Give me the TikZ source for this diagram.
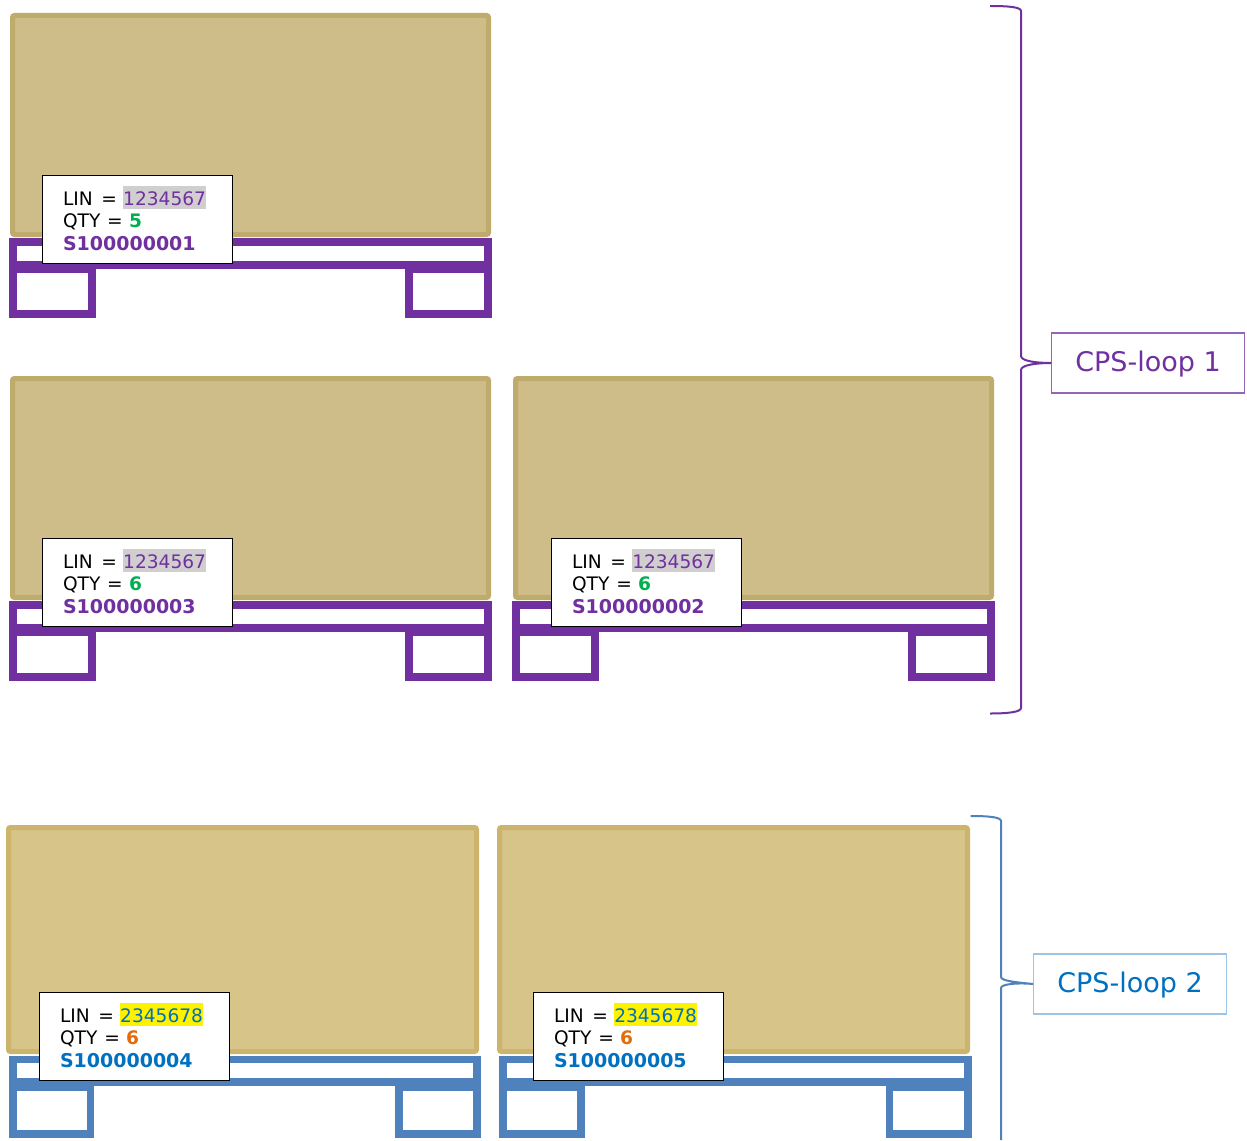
\documentclass[tikz,border=0pt]{standalone}
\usepackage{fontspec}
\setmainfont{DejaVu Sans}
\definecolor{looppurple}{HTML}{7030A0}
\definecolor{loopblue}{HTML}{4F81BD}
\definecolor{looptext}{HTML}{0070C0}
\definecolor{qtygreen}{HTML}{00B050}
\definecolor{qtyorange}{HTML}{E36C0A}
\definecolor{hlgrey}{HTML}{D0CECE}
\newcommand{\marked}[2]{{\setlength{\fboxsep}{0pt}\smash{\colorbox{#1}{\rule[-3.6pt]{0pt}{23pt}#2}}}}
\newcommand{\linis}{\rule{0pt}{16.6pt}LIN\kern2.5pt{} = }
\newcommand{\qtyis}{QTY\kern0.7pt{} = }
\newcommand{\serial}[2]{\textcolor{#1}{\fontsize{19}{22.6}\selectfont\textbf{#2}}}
\tikzstyle{crate}=[line width=5pt, rounded corners=2pt, line join=miter]
\tikzstyle{crateA}=[crate, draw={rgb,255:red,191;green,171;blue,107}, fill={rgb,255:red,206;green,188;blue,137}]
\tikzstyle{crateB}=[crate, draw={rgb,255:red,205;green,180;blue,108}, fill={rgb,255:red,215;green,196;blue,137}]
\tikzstyle{palletA}=[draw=looppurple, line width=8pt]
\tikzstyle{palletB}=[draw=loopblue, line width=7.7pt]
\tikzstyle{tag}=[draw=black, fill=white, line width=1pt, anchor=north west, inner xsep=20.5pt, inner ysep=0pt, text width=149pt, minimum height=88.4pt, align=left, font=\fontsize{18.6}{22.4}\selectfont]
\tikzstyle{loopbox}=[draw, line width=1.3pt, fill=white, minimum width=192.5pt, minimum height=60pt, inner sep=0pt, text height=21.5pt, text depth=4.5pt, font=\fontsize{27}{32}\selectfont]
\tikzstyle{brace}=[line width=2pt]
\begin{document}
\begin{tikzpicture}[x=1pt, y=-1pt]
    \useasboundingbox (0, 0) rectangle (1247, 1140);
    \foreach \dx/\dy in {0/0, 0/363, 503/363} {
        \begin{scope}[shift={(\dx, \dy)}]
            \draw[crateA] (12.5, 15.5) rectangle (488.5, 234.5);
            \draw[palletA] (12.7, 241.8) rectangle (488.3, 265);
            \draw[palletA] (12.7, 268.7) rectangle (92, 313.7);
            \draw[palletA] (409, 268.7) rectangle (488.3, 313.7);
        \end{scope}
    }
    \foreach \dx in {0, 491} {
        \draw[crateB] (8.5+\dx, 827.5) rectangle (476.5+\dx, 1051.5);
    }
    \foreach \dx in {0, 490.5} {
        \draw[palletB] (12.7+\dx, 1059.5) rectangle (477.3+\dx, 1081.7);
        \draw[palletB] (12.7+\dx, 1087.5) rectangle (90.5+\dx, 1133.7);
        \draw[palletB] (399+\dx, 1087.5) rectangle (477.3+\dx, 1133.7);
    }
    \node[tag] (tag1) at (42, 175) {\linis\marked{hlgrey}{\textcolor{looppurple}{1234567}}\\\qtyis\textcolor{qtygreen}{\textbf{5}}\\\serial{looppurple}{S100000001}};
    \node[tag] (tag3) at (42, 538) {\linis\marked{hlgrey}{\textcolor{looppurple}{1234567}}\\\qtyis\textcolor{qtygreen}{\textbf{6}}\\\serial{looppurple}{S100000003}};
    \node[tag] (tag2) at (551, 538) {\linis\marked{hlgrey}{\textcolor{looppurple}{1234567}}\\\qtyis\textcolor{qtygreen}{\textbf{6}}\\\serial{looppurple}{S100000002}};
    \node[tag] (tag4) at (39, 992) {\linis\marked{yellow}{\textcolor{looptext}{2345678}}\\\qtyis\textcolor{qtyorange}{\textbf{6}}\\\serial{looptext}{S100000004}};
    \node[tag] (tag5) at (533, 992) {\linis\marked{yellow}{\textcolor{looptext}{2345678}}\\\qtyis\textcolor{qtyorange}{\textbf{6}}\\\serial{looptext}{S100000005}};
    \node[loopbox, draw=looppurple!75, text=looppurple] (loop1) at (1148, 363) {CPS-loop 1};
    \node[loopbox, draw={rgb,255:red,157;green,195;blue,230}, text=looptext] (loop2) at (1130, 984) {CPS-loop 2};
    \coordinate (loop1top) at (990, 6);
    \coordinate (loop1bot) at (990, 713.5);
    \coordinate (loop2top) at (970.7, 816);
    \coordinate (loop2bot) at (1001, 1140);
    \draw[brace, draw=looppurple] (loop1top) .. controls (1008, 6) and (1021, 7) .. (1021, 11) -- (1021, 356) .. controls (1021, 361) and (1036, 363) .. (loop1.west) .. controls (1036, 363) and (1021, 365) .. (1021, 370) -- (1021, 708) .. controls (1021, 712) and (1008, 713.5) .. (loop1bot);
    \draw[brace, draw=loopblue] (loop2top) .. controls (988, 816) and (1001, 817) .. (1001, 821) -- (1001, 977) .. controls (1001, 981) and (1018, 982.5) .. (loop2.west) .. controls (1018, 982.5) and (1001, 984) .. (1001, 988) -- (loop2bot);
\end{tikzpicture}
\end{document}
